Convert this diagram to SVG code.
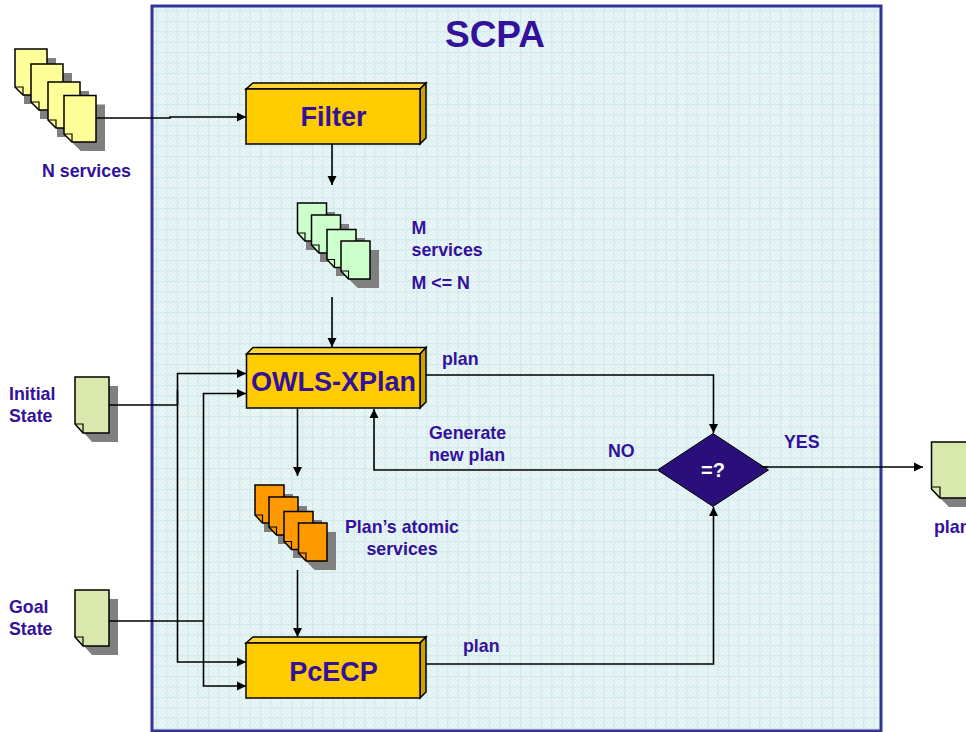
<svg xmlns="http://www.w3.org/2000/svg" width="966" height="732" viewBox="0 0 966 732">
<defs>
<pattern id="grid" width="10.4" height="10.4" patternUnits="userSpaceOnUse">
<path d="M0.600 0V10.400M0 0.600H10.400" stroke="#d0eaec" stroke-width="1.200" fill="none"/>
</pattern>
<pattern id="dither" width="4" height="4" patternUnits="userSpaceOnUse">
<rect width="4" height="4" fill="#ecf6f7"/>
<path d="M0 0h2v2H0zM2 2h2v2H2z" fill="#e0f1f3"/>
</pattern>
<marker id="arrow" viewBox="0 0 10 10" refX="10" refY="5" markerWidth="10" markerHeight="10" markerUnits="userSpaceOnUse" orient="auto"><path d="M1 0.500L10 5L1 9.500Z" fill="#000"/></marker>
</defs>
<style>
text{font-family:"Liberation Sans",Arial,sans-serif;font-weight:bold;fill:#33119a}
.lab{font-size:17.800px}
.box{font-size:27px;text-anchor:middle}
.line{fill:none;stroke:#000;stroke-width:1.600}
.arr{marker-end:url(#arrow)}
.shadow{fill:#808080;stroke:none}
.doc{stroke:#000;stroke-width:1.500}
.fold{fill:none;stroke:#000;stroke-width:1.200}
.y{fill:#ffff99}.g{fill:#ccffcc}.o{fill:#ff9900}.l{fill:#d9e8ad}
.front{fill:#ffcc00;stroke:#000;stroke-width:1.500}
.top{fill:#ffd633;stroke:#000;stroke-width:1.500}
.side{fill:#cca300;stroke:#000;stroke-width:1.500}
</style>
<rect width="966" height="732" fill="#fff"/>
<g id="panel"><rect x="152" y="6" width="729" height="725" fill="url(#dither)"/><rect x="152" y="6" width="729" height="725" fill="url(#grid)" stroke="#333399" stroke-width="3"/>
<text x="495" y="47" font-size="37" text-anchor="middle">SCPA</text></g>

<g id="n-services">
<path class="shadow" d="M24 58H56V104H24Z M40 73H72V119H40Z M57 91H89V137H57Z M72 104.500H105V151H81L72 142Z"/>
<path class="shadow" d="M23 95L47 95L96 142L81 151L72 142Z"/>
<path class="doc y" d="M15 49H47V95H23L15 87Z"/><path class="fold" d="M15 87H23V95"/>
<path class="doc y" d="M31 64H63V110H39L31 102Z"/><path class="fold" d="M31 102H39V110"/>
<path class="doc y" d="M48 82H80V128H56L48 120Z"/><path class="fold" d="M48 120H56V128"/>
<path class="doc y" d="M64 95.500H96V142H72L64 134Z"/><path class="fold" d="M64 134H72V142"/>
<text class="lab" x="42" y="177">N services</text>
</g>

<g id="m-services">
<path class="shadow" d="M306 212H335V250H306Z M320 224H349V262H320Z M336 238H365V276H336Z M350 250H379V288H358L350 280Z"/>
<path class="shadow" d="M305 241L326 241L370 279L358 288L349 279Z"/>
<path class="doc g" d="M297.500 203H326.500V241H305L297.500 233Z"/><path class="fold" d="M297.500 233H305V241"/>
<path class="doc g" d="M311.500 215H340.500V253H319L311.500 245Z"/><path class="fold" d="M311.500 245H319V253"/>
<path class="doc g" d="M327 229.500H356V267.500H334.500L327 259.500Z"/><path class="fold" d="M327 259.500H334.500V267.500"/>
<path class="doc g" d="M341 241H370V279H348.500L341 271Z"/><path class="fold" d="M341 271H348.500V279"/>
<text class="lab" x="411.500" y="234">M</text>
<text class="lab" x="411.500" y="256">services</text>
<text class="lab" x="411.500" y="289">M &lt;= N</text>
</g>

<g id="atomic-services">
<path class="shadow" d="M264 494H293V532H264Z M278 506H307V544H278Z M293 520H322V558H293Z M307 532H336V570H315L307 562Z"/>
<path class="shadow" d="M262.500 523L284 523L327 561L315 570L306 561Z"/>
<path class="doc o" d="M255 485H284V523H262.500L255 515Z"/><path class="fold" d="M255 515H262.500V523"/>
<path class="doc o" d="M269 497H298V535H276.500L269 527Z"/><path class="fold" d="M269 527H276.500V535"/>
<path class="doc o" d="M284 511.500H313V549.500H291.500L284 541.500Z"/><path class="fold" d="M284 541.500H291.500V549.500"/>
<path class="doc o" d="M298.500 523H327V561H306L298.500 553Z"/><path class="fold" d="M298.500 553H306V561"/>
<text class="lab" x="402" y="533" text-anchor="middle">Plan’s atomic</text>
<text class="lab" x="402" y="555" text-anchor="middle">services</text>
</g>

<g id="initial-state">
<path class="shadow" d="M84 386H118V442H92L84 433Z"/>
<path class="doc l" d="M75 377H109V433H83L75 424Z"/><path class="fold" d="M75 424H83V433"/>
<text class="lab" x="9" y="400">Initial</text><text class="lab" x="9" y="422">State</text>
</g>

<g id="goal-state">
<path class="shadow" d="M84 599H118V655H92L84 646Z"/>
<path class="doc l" d="M75 590H109V646H83L75 637Z"/><path class="fold" d="M75 637H83V646"/>
<text class="lab" x="9" y="613">Goal</text><text class="lab" x="9" y="635">State</text>
</g>

<g id="plan-output">
<path class="shadow" d="M940 451H975V507H949L940 498Z"/>
<path class="doc l" d="M931.500 442H968V498H940L931.500 489Z"/><path class="fold" d="M931.500 487H940V498"/>
<text class="lab" x="934" y="533">plan</text>
</g>

<g id="connectors">
<path class="line arr" d="M96 118H170V117H246"/>
<path class="line arr" d="M332 143V185"/>
<path class="line arr" d="M332 297V347"/>
<path class="line arr" d="M297.500 408V476"/>
<path class="line arr" d="M297.500 570V637"/>
<path class="line" d="M109 405H177.500"/>
<path class="line arr" d="M177.500 405V373.500H246"/>
<path class="line arr" d="M177.500 390V662H246"/>
<path class="line" d="M109 621H203.500"/>
<path class="line arr" d="M203.500 621V393.500H246"/>
<path class="line arr" d="M203.500 621V686H246"/>
<path class="line arr" d="M420 375H713.500V433"/>
<path class="line arr" d="M420 664H713.500V507"/>
<path class="line arr" d="M657 470H374V409"/>
<path class="line arr" d="M760 467H923"/>
</g>

<g id="filter">
<path class="top" d="M246 89L253 83H426L420 89Z"/><path class="side" d="M420 89L426 83V138L420 144Z"/>
<rect class="front" x="246" y="89" width="174" height="55"/>
<text class="box" x="333.500" y="126">Filter</text>
</g>

<g id="owls-xplan">
<path class="top" d="M246.500 354L253 347.500H426L420 354Z"/><path class="side" d="M420 354L426 347.500V402L420 408Z"/>
<rect class="front" x="246.500" y="354" width="173.500" height="54"/>
<text class="box" x="333.500" y="391">OWLS-XPlan</text>
</g>

<g id="pcecp">
<path class="top" d="M246 643L253 637H426L420 643Z"/><path class="side" d="M420 643L426 637V692L420 698Z"/>
<rect class="front" x="246" y="643" width="174" height="55"/>
<text class="box" x="333.500" y="681">PcECP</text>
</g>

<g id="decision">
<path d="M713 433.500L768.500 470L713 506.500L657.500 470Z" fill="#2a0f7a" stroke="#000" stroke-width="1"/>
<text x="713" y="477" font-size="20" text-anchor="middle" style="fill:#fff">=?</text>
</g>
<path class="line" d="M760 467H768"/>

<g id="labels">
<text class="lab" x="442" y="365">plan</text>
<text class="lab" x="463" y="652">plan</text>
<text class="lab" x="429" y="439">Generate</text>
<text class="lab" x="429" y="461">new plan</text>
<text class="lab" x="608" y="456.500">NO</text>
<text class="lab" x="784" y="447.500">YES</text>
</g>
</svg>
